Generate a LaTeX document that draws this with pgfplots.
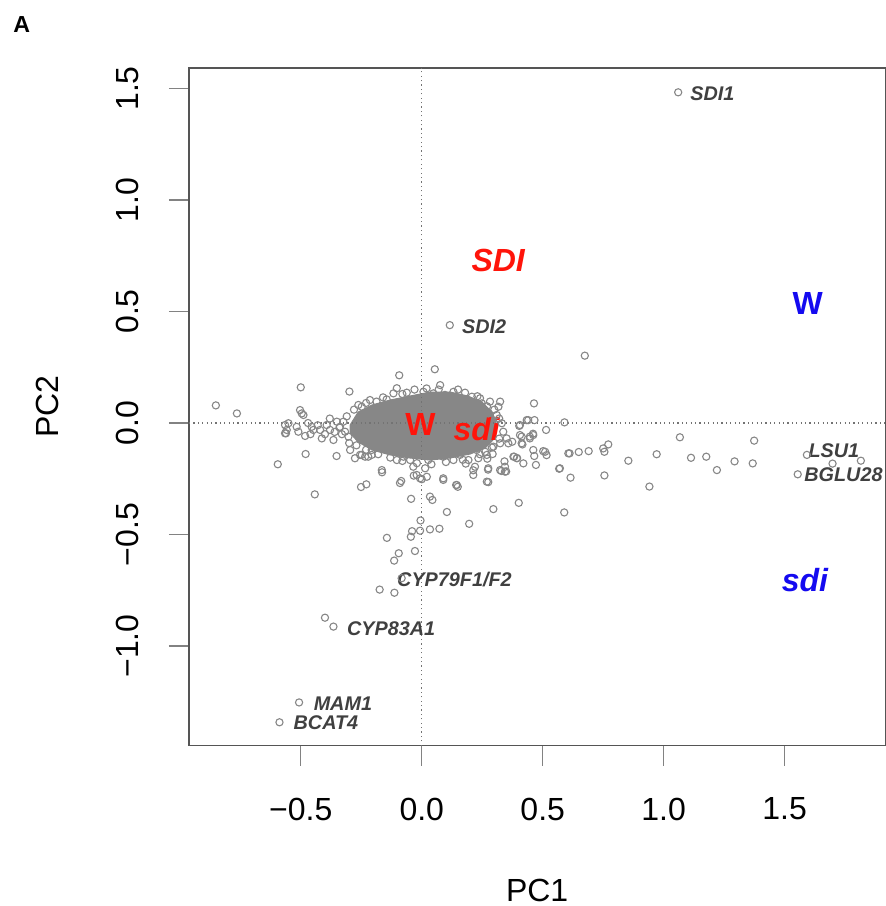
\documentclass[border=0pt]{standalone}
\usepackage{fontspec}
\setmainfont{Liberation Sans}
\usepackage{pgfplots}
\pgfplotsset{compat=1.18}
\definecolor{ptgray}{RGB}{135,135,135}
\definecolor{axgray}{RGB}{85,85,85}
\definecolor{tkgray}{RGB}{130,130,130}
\definecolor{lblgray}{RGB}{64,64,64}
\definecolor{sred}{RGB}{255,20,10}
\definecolor{sblue}{RGB}{20,10,240}
\begin{document}
\begin{tikzpicture}
\begin{axis}[
  scale only axis, width=348.15pt, height=338.85pt,
  at={(0,0)}, anchor=south west,
  xmin=-0.962, xmax=1.916, ymin=-1.447, ymax=1.592,
  axis line style={axgray, line width=0.6pt},
  xtick={-0.5,0,0.5,1,1.5}, ytick={-1,-0.5,0,0.5,1,1.5},
  xticklabels={−0.5,0.0,0.5,1.0,1.5},
  yticklabels={−1.0,−0.5,0.0,0.5,1.0,1.5},
  xtick pos=bottom, ytick pos=left,
  tick align=outside, major tick length=10pt,
  tick style={tkgray, line width=0.6pt},
  xticklabel style={font=\fontsize{16}{19}\selectfont, anchor=center, yshift=-21.65pt},
  yticklabel style={font=\fontsize{16}{19}\selectfont, xshift=-20.75pt, rotate=90, anchor=center},
  xlabel={PC1}, ylabel={PC2},
  xlabel style={font=\fontsize{16}{19}\selectfont, at={(axis description cs:0.5,0)}, anchor=center, yshift=-72.15pt},
  ylabel style={font=\fontsize{16}{19}\selectfont, at={(axis description cs:0,0.5)}, anchor=center, yshift=70.75pt},
  clip=true,
]
% dense core of the cloud (solid overlap of thousands of points)
\addplot[fill=ptgray, draw=ptgray, line width=0.5pt] coordinates {
(-0.296,-0.009) (-0.263,0.049) (-0.205,0.081) (-0.131,0.103) (-0.048,0.121)
(0.034,0.139) (0.117,0.139) (0.191,0.121) (0.249,0.094) (0.291,0.049)
(0.311,-0.009) (0.303,-0.067) (0.262,-0.112) (0.200,-0.139) (0.117,-0.157)
(0.034,-0.166) (-0.048,-0.157) (-0.131,-0.143) (-0.205,-0.121) (-0.263,-0.085)
(-0.296,-0.045)} -- cycle;
% individual points
\addplot[only marks, mark=o, mark size=1.8pt, ptgray, mark options={line width=0.55pt}] coordinates {
(-0.851,0.079) (-0.764,0.043) (-0.500,0.160) (-0.299,0.141) (-0.093,0.214)
(0.054,0.241) (0.076,0.170) (-0.595,-0.185) (-0.480,-0.139) (-0.442,-0.320)
(-0.352,-0.148) (0.464,0.088) (0.590,0.003) (0.514,-0.031) (0.611,-0.136)
(0.568,-0.205) (0.615,-0.245) (0.589,-0.401) (0.401,-0.358) (0.296,-0.386)
(0.196,-0.452) (0.104,-0.399) (-0.044,-0.340) (0.034,-0.330) (0.044,-0.345)
(-0.005,-0.437) (-0.040,-0.485) (-0.007,-0.483) (0.034,-0.477) (0.073,-0.474)
(-0.045,-0.510) (-0.144,-0.515) (-0.028,-0.574) (-0.095,-0.584) (-0.114,-0.617)
(-0.174,-0.747) (-0.113,-0.761) (-0.083,-0.696) (-0.400,-0.873) (-0.365,-0.913)
(-0.507,-1.253) (-0.588,-1.342) (1.060,1.483) (0.116,0.439) (0.674,0.302)
(-0.251,-0.287) (-0.229,-0.275) (-0.090,-0.269) (-0.085,-0.260) (0.000,-0.252)
(0.089,-0.255) (0.142,-0.278) (0.149,-0.286) (-0.164,-0.221) (-0.033,-0.236)
(0.275,-0.265) (0.274,-0.209) (0.329,-0.215) (0.349,-0.217) (0.342,-0.172)
(0.472,-0.188) (0.420,-0.181) (0.382,-0.151) (0.394,-0.157) (0.461,-0.121)
(0.502,-0.126) (0.516,-0.144) (0.465,-0.148) (0.447,-0.061) (0.460,-0.048)
(0.413,-0.061) (0.416,-0.096) (0.440,0.013) (0.466,0.013) (0.403,-0.013)
(0.374,-0.084) (1.067,-0.064) (1.374,-0.079) (0.649,-0.130) (0.690,-0.126)
(0.750,-0.114) (0.771,-0.096) (0.755,-0.129) (0.854,-0.169) (0.971,-0.140)
(1.113,-0.156) (1.176,-0.151) (1.220,-0.211) (1.293,-0.172) (1.368,-0.181)
(1.592,-0.143) (1.698,-0.182) (1.815,-0.169) (1.554,-0.230) (0.941,-0.285)
(0.755,-0.235) (0.271,-0.160) (0.213,-0.212) (0.182,-0.182) (0.293,-0.139)
(-0.103,0.156) (-0.117,0.133) (-0.062,0.136) (-0.214,0.103) (-0.187,0.096)
(-0.145,0.106) (-0.262,0.081) (-0.248,0.073) (-0.503,0.058) (-0.496,0.043)
(-0.489,0.036) (-0.551,-0.001) (-0.558,-0.031) (-0.565,-0.046) (-0.517,-0.017)
(-0.510,-0.039) (-0.482,-0.058) (-0.455,-0.017) (-0.448,-0.031) (-0.420,-0.031)
(-0.413,-0.069) (-0.393,-0.009) (-0.379,-0.031) (-0.365,-0.076) (-0.351,0.006)
(-0.338,-0.017) (-0.324,0.006) (-0.317,-0.039) (-0.303,-0.061) (-0.296,-0.121)
(-0.276,-0.158) (-0.248,-0.143) (-0.221,-0.151) (-0.207,-0.121) (-0.165,-0.211)
(-0.172,-0.099) (-0.145,-0.114) (-0.117,-0.121) (-0.103,-0.166) (-0.076,-0.151)
(-0.048,-0.166) (-0.035,-0.196) (-0.021,-0.233) (-0.007,-0.248) (0.014,-0.203)
(0.027,-0.166) (0.007,0.140) (0.048,0.133) (0.096,0.126) (0.131,0.140)
(0.179,0.136) (0.207,0.118) (0.241,0.111) (0.248,0.088) (0.282,0.096)
(0.324,0.096) (0.317,0.073) (0.275,0.043) (0.310,0.036) (0.331,-0.001)
(0.337,-0.039) (0.351,-0.069) (0.358,-0.091) (0.406,-0.009) (0.434,0.013)
(0.406,-0.054) (0.413,-0.091) (0.447,-0.069) (0.461,-0.054) (0.200,-0.091)
(0.227,-0.121) (0.269,-0.143) (0.296,-0.106) (0.324,-0.091) (0.262,-0.129)
(0.048,-0.136) (0.089,-0.151) (0.131,-0.166) (0.158,-0.143) (0.193,-0.166)
(0.220,-0.196) (0.234,-0.158) (0.275,-0.203) (0.324,-0.211) (0.344,-0.196)
(0.379,-0.151) (0.393,-0.158) (0.510,-0.129) (0.021,-0.241) (0.089,-0.248)
(0.145,-0.278) (0.213,-0.233) (0.269,-0.263) (0.344,-0.218) (0.571,-0.203)
(0.606,-0.136) (-0.255,-0.143) (-0.234,-0.151) (-0.207,-0.143) (-0.565,-0.009)
(-0.561,-0.046)
(-0.230,0.090) (-0.160,0.115) (-0.080,0.130) (-0.030,0.150) (0.020,0.155)
(0.070,0.150) (0.150,0.150) (0.230,0.120) (0.270,0.075) (0.300,0.060)
(0.320,0.020) (-0.270,-0.100) (-0.230,-0.120) (-0.180,-0.140) (-0.130,-0.155)
(-0.080,-0.170) (-0.020,-0.180) (0.040,-0.185) (0.100,-0.175) (0.170,-0.165)
(0.240,-0.140) (0.290,-0.110) (0.320,-0.070) (-0.310,0.030) (-0.330,-0.050)
(-0.280,0.060) (-0.300,-0.090) (-0.340,-0.020) (-0.360,-0.040) (-0.380,0.020)
(-0.400,-0.050) (-0.430,-0.010) (-0.460,-0.050) (-0.470,0.000)
};
% reference lines
\addplot[gray!90!black, line width=0.6pt, dash pattern=on 0.6pt off 1.6pt] coordinates {(0,-1.447) (0,1.592)};
\addplot[gray!90!black, line width=0.6pt, dash pattern=on 0.6pt off 1.6pt] coordinates {(-0.962,0) (1.916,0)};
% gene labels
\begin{scope}[every node/.style={font=\fontsize{9.9}{11}\selectfont\bfseries\itshape, text=lblgray, inner sep=0pt, anchor=west}]
\node at (axis cs:1.109,1.475) {SDI1};
\node at (axis cs:0.165,0.432) {SDI2};
\node at (axis cs:1.597,-0.122) {LSU1};
\node at (axis cs:1.580,-0.233) {BGLU28};
\node at (axis cs:-0.103,-0.704) {CYP79F1/F2};
\node at (axis cs:-0.310,-0.921) {CYP83A1};
\node at (axis cs:-0.448,-1.257) {MAM1};
\node at (axis cs:-0.531,-1.342) {BCAT4};
\end{scope}
% group labels
\begin{scope}[every node/.style={font=\fontsize{16}{19}\selectfont\bfseries, inner sep=0pt, anchor=center}]
\node[text=sred] at (axis cs:0.316,0.731) {\itshape SDI};
\node[text=sblue] at (axis cs:1.595,0.538) {W};
\node[text=sblue] at (axis cs:1.584,-0.704) {\itshape sdi};
\node[text=sred] at (axis cs:-0.005,-0.008) {W};
\node[text=sred] at (axis cs:0.227,-0.029) {\itshape sdi};
\end{scope}
\end{axis}
\node[font=\fontsize{11.6}{13}\selectfont\bfseries, anchor=center, inner sep=0pt] at (-83.65pt,360.35pt) {A};
\pgfresetboundingbox
\path[use as bounding box] (-94.5pt,-80.15pt) rectangle (348.5pt,372.85pt);
\end{tikzpicture}
\end{document}
